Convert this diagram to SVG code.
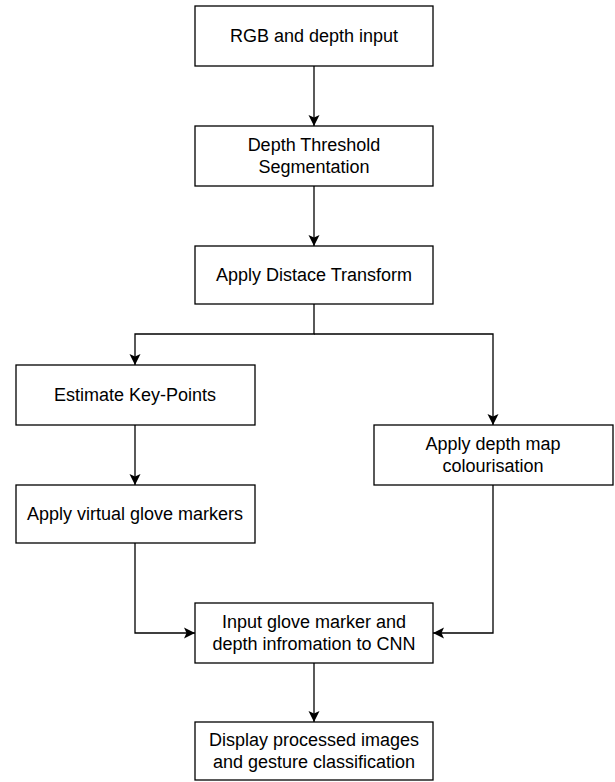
<svg xmlns="http://www.w3.org/2000/svg" width="615" height="782" viewBox="0 0 615 782">
<style>
.box{fill:#fff;stroke:#000;stroke-width:1.3}
.t{font-family:"Liberation Sans",Arial,sans-serif;font-size:18px;fill:#000;text-anchor:middle}
.c{fill:none;stroke:#000;stroke-width:1.3}
</style>
<defs>
<marker id="ah" markerUnits="userSpaceOnUse" markerWidth="13" markerHeight="13" viewBox="-1 -6.5 13 13" refX="11" refY="0" orient="auto">
<path d="M0,-5.5 L11,0 L0,5.5 L2.5,0 Z" fill="#000"/>
</marker>
</defs>
<rect width="615" height="782" fill="#fff"/>
<g id="connectors">
<path class="c" d="M314,66 V126" marker-end="url(#ah)"/>
<path class="c" d="M314,186 V246" marker-end="url(#ah)"/>
<path class="c" d="M314,304 V334 H135 V365" marker-end="url(#ah)"/>
<path class="c" d="M314,334 H493 V425" marker-end="url(#ah)"/>
<path class="c" d="M135,425 V485" marker-end="url(#ah)"/>
<path class="c" d="M135,543 V633 H195" marker-end="url(#ah)"/>
<path class="c" d="M493,485 V633 H433" marker-end="url(#ah)"/>
<path class="c" d="M314,663 V722" marker-end="url(#ah)"/>
</g>
<g id="n1"><rect class="box" x="195" y="6" width="238" height="60"/><text class="t" x="314" y="42">RGB and depth input</text></g>
<g id="n2"><rect class="box" x="195" y="126" width="238" height="60"/><text class="t" x="314" y="151">Depth Threshold</text><text class="t" x="314" y="173">Segmentation</text></g>
<g id="n3"><rect class="box" x="195" y="246" width="238" height="58"/><text class="t" x="314" y="281">Apply Distace Transform</text></g>
<g id="n4"><rect class="box" x="16" y="365" width="239" height="60"/><text class="t" x="135" y="401">Estimate Key-Points</text></g>
<g id="n5"><rect class="box" x="374" y="425" width="239" height="60"/><text class="t" x="493" y="450">Apply depth map</text><text class="t" x="493" y="472">colourisation</text></g>
<g id="n6"><rect class="box" x="16" y="485" width="239" height="58"/><text class="t" x="135" y="520">Apply virtual glove markers</text></g>
<g id="n7"><rect class="box" x="195" y="603" width="238" height="60"/><text class="t" x="314" y="628">Input glove marker and</text><text class="t" x="314" y="650">depth infromation to CNN</text></g>
<g id="n8"><rect class="box" x="195" y="722" width="238" height="58"/><text class="t" x="314" y="746">Display processed images</text><text class="t" x="314" y="768">and gesture classification</text></g>
</svg>
